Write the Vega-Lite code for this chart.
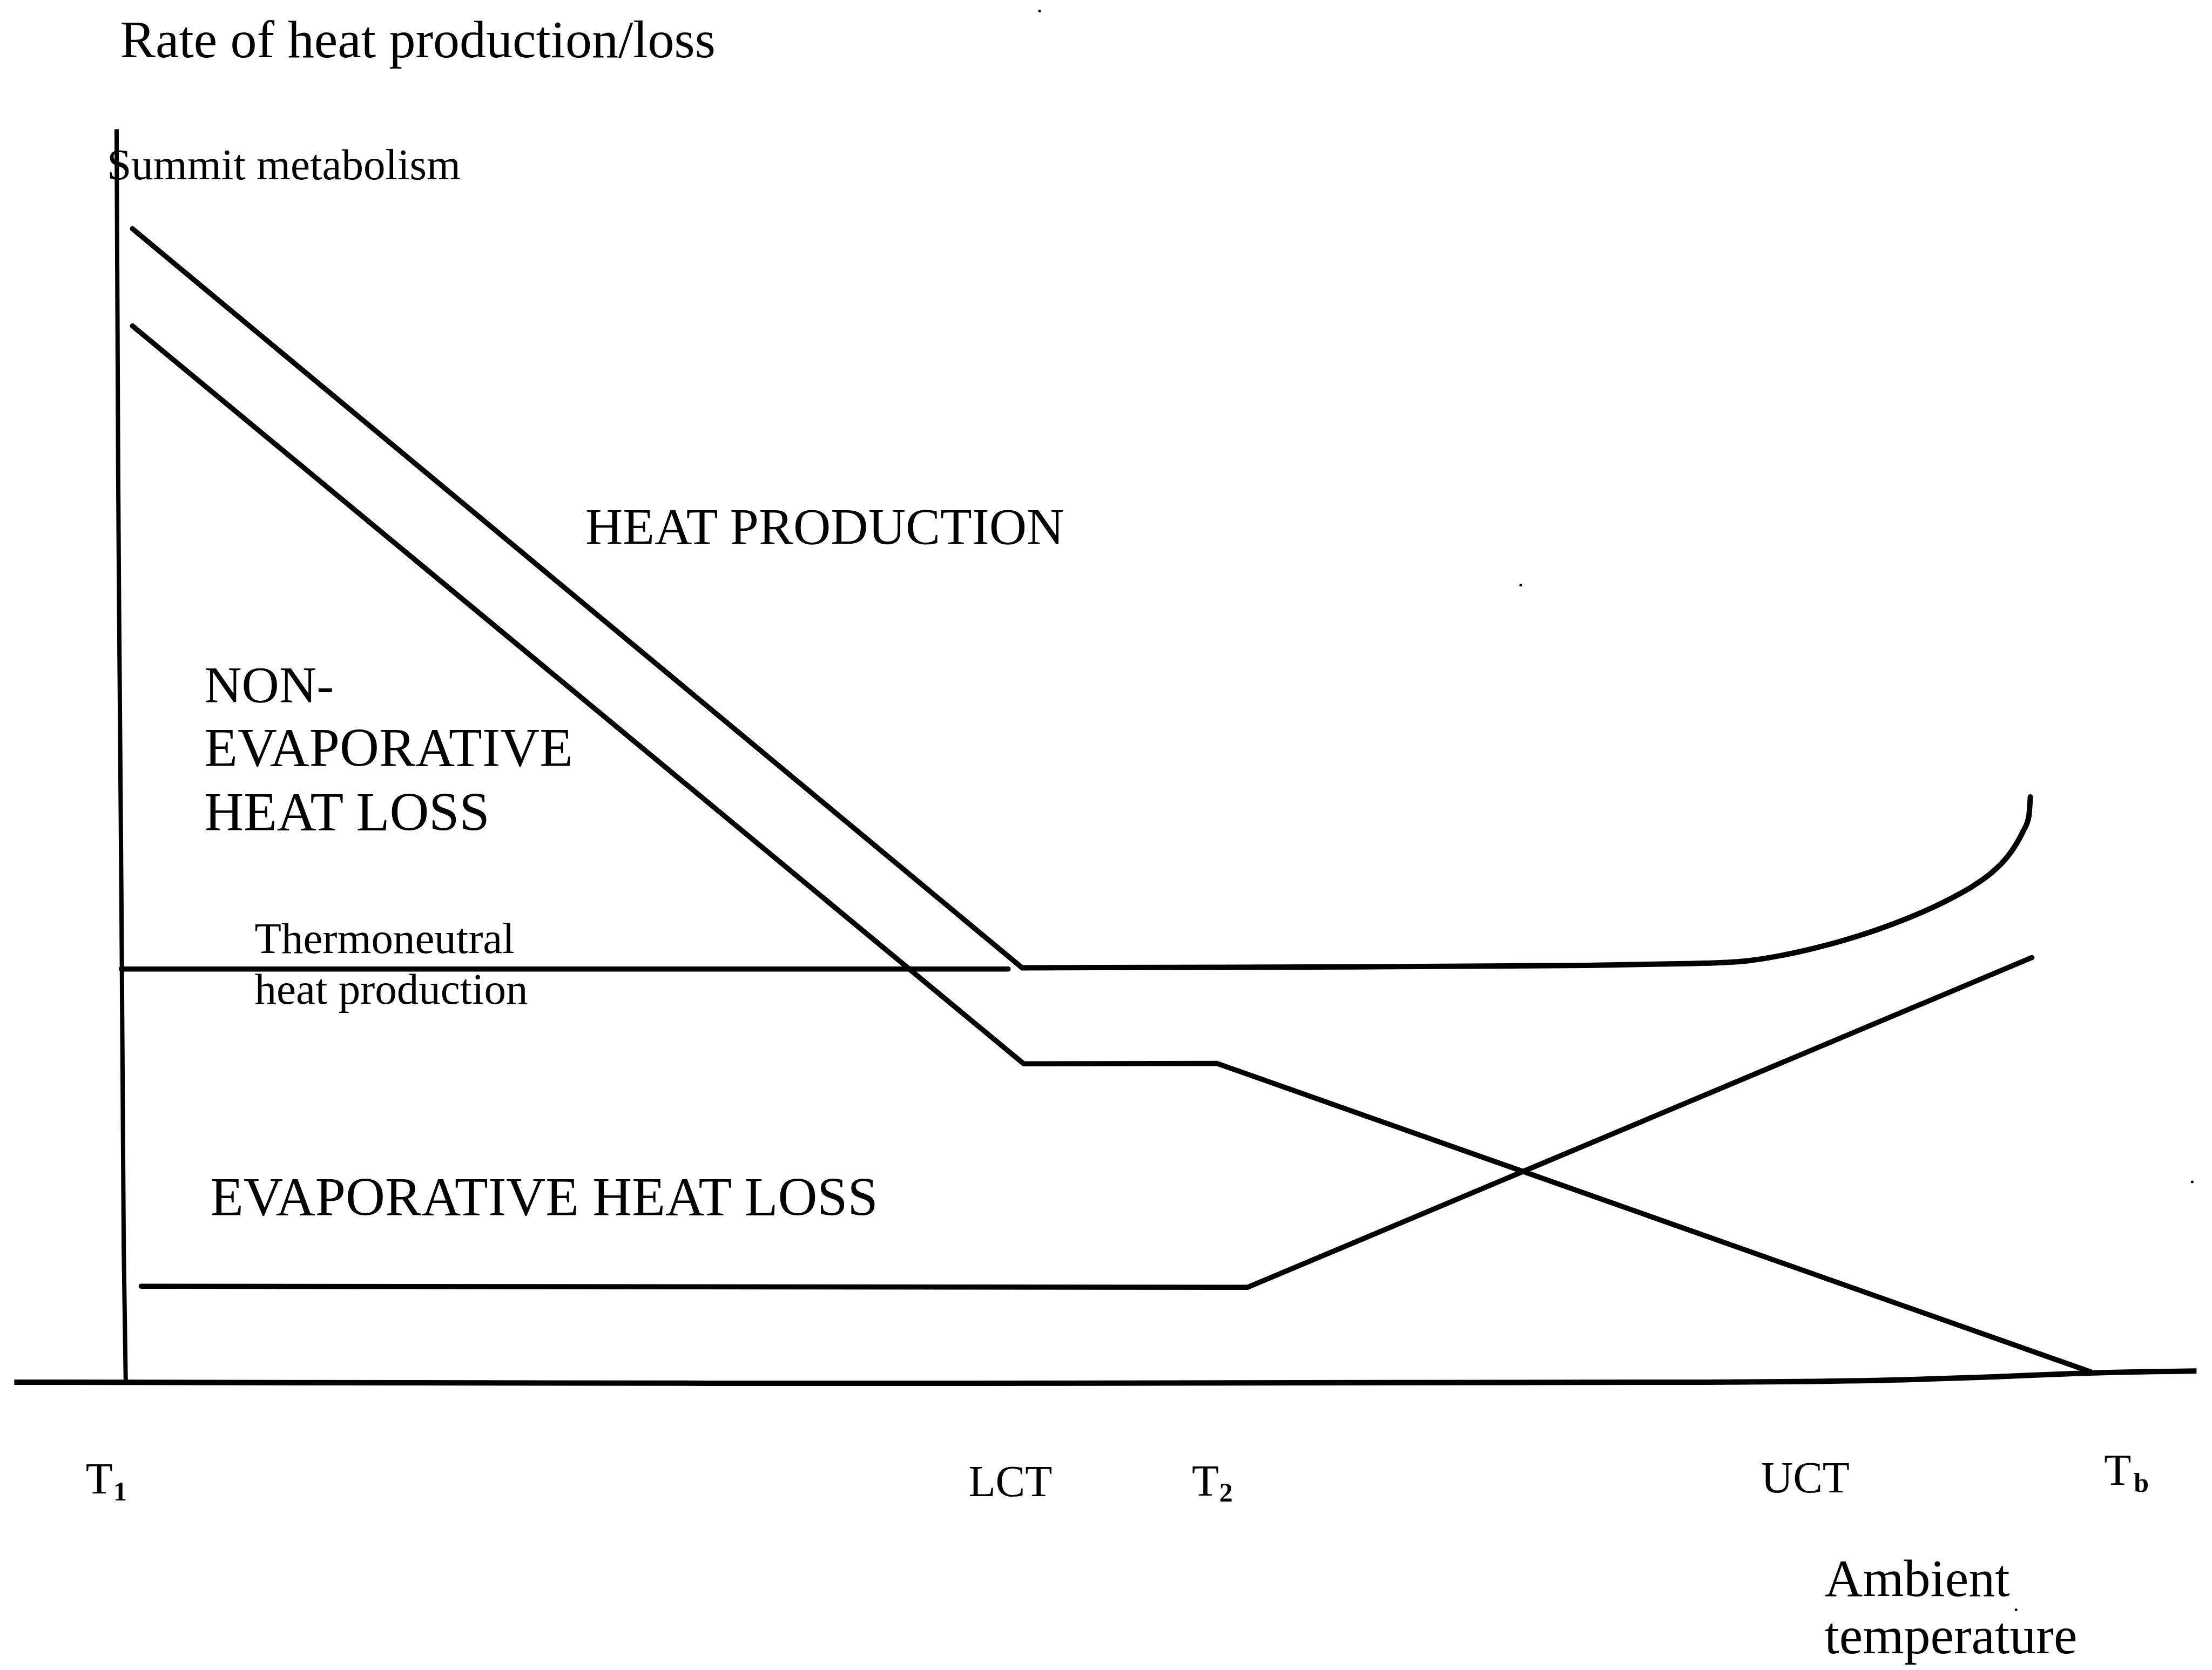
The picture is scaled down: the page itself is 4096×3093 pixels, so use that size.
{
  "$schema": "https://vega.github.io/schema/vega-lite/v6.json",
  "width": 4096,
  "height": 3093,
  "autosize": {"type": "fit", "contains": "padding"},
  "padding": 0,
  "background": "white",
  "config": {"view": {"stroke": null}},
  "datasets": {
    "lines": [
      {"series": "Heat production", "seq": 1, "x": 33.4, "y": 290.9},
      {"series": "Heat production", "seq": 2, "x": 257.7, "y": 104.5},
      {"series": "Non-evaporative heat loss", "seq": 1, "x": 33.4, "y": 266.4},
      {"series": "Non-evaporative heat loss", "seq": 2, "x": 258.1, "y": 80.3},
      {"series": "Non-evaporative heat loss", "seq": 3, "x": 306.8, "y": 80.4},
      {"series": "Non-evaporative heat loss", "seq": 4, "x": 527.1, "y": 2.6},
      {"series": "Thermoneutral heat production", "seq": 1, "x": 30.6, "y": 104.2},
      {"series": "Thermoneutral heat production", "seq": 2, "x": 254.2, "y": 104.2},
      {"series": "Evaporative heat loss", "seq": 1, "x": 35.6, "y": 24.2},
      {"series": "Evaporative heat loss", "seq": 2, "x": 314.5, "y": 23.9},
      {"series": "Evaporative heat loss", "seq": 3, "x": 512.3, "y": 107.1}
    ],
    "curve": [
      {"seq": 1, "x": 257.7, "y": 104.5},
      {"seq": 2, "x": 330.0, "y": 104.7},
      {"seq": 3, "x": 400.0, "y": 105.1},
      {"seq": 4, "x": 425.0, "y": 105.55},
      {"seq": 5, "x": 435.0, "y": 105.85},
      {"seq": 6, "x": 440.0, "y": 106.2},
      {"seq": 7, "x": 445.7, "y": 107.0},
      {"seq": 8, "x": 451.5, "y": 108.1},
      {"seq": 9, "x": 457.2, "y": 109.4},
      {"seq": 10, "x": 463.0, "y": 110.9},
      {"seq": 11, "x": 468.7, "y": 112.6},
      {"seq": 12, "x": 474.4, "y": 114.5},
      {"seq": 13, "x": 480.2, "y": 116.7},
      {"seq": 14, "x": 485.9, "y": 119.1},
      {"seq": 15, "x": 491.7, "y": 121.9},
      {"seq": 16, "x": 497.4, "y": 125.1},
      {"seq": 17, "x": 501.4, "y": 127.9},
      {"seq": 18, "x": 504.9, "y": 131.1},
      {"seq": 19, "x": 507.7, "y": 134.7},
      {"seq": 20, "x": 510.0, "y": 138.8},
      {"seq": 21, "x": 511.5, "y": 142.6},
      {"seq": 22, "x": 511.9, "y": 147.6}
    ],
    "haxis": [
      {"seq": 1, "x": 3.6, "y": 0.0},
      {"seq": 2, "x": 230.0, "y": -0.3},
      {"seq": 3, "x": 430.0, "y": 0.0},
      {"seq": 4, "x": 480.0, "y": 0.6},
      {"seq": 5, "x": 501.7, "y": 1.3},
      {"seq": 6, "x": 526.8, "y": 2.3},
      {"seq": 7, "x": 553.8, "y": 2.8}
    ],
    "vaxis": [
      {"seq": 1, "x": 29.4, "y": 316.0},
      {"seq": 2, "x": 29.8, "y": 228.6},
      {"seq": 3, "x": 30.0, "y": 198.6},
      {"seq": 4, "x": 30.6, "y": 123.6},
      {"seq": 5, "x": 31.2, "y": 33.6},
      {"seq": 6, "x": 31.7, "y": 0.1}
    ],
    "capsText": [
      {"label": "HEAT PRODUCTION", "x": 147.6, "y": 211.3},
      {"label": "NON-", "x": 51.5, "y": 171.4}
    ],
    "bigText": [
      {"label": "EVAPORATIVE", "x": 51.5, "y": 155.3},
      {"label": "HEAT LOSS", "x": 51.5, "y": 139.2},
      {"label": "EVAPORATIVE HEAT LOSS", "x": 53.0, "y": 42.1}
    ],
    "largeText": [
      {"label": "Rate of heat production/loss", "x": 30.3, "y": 334.2},
      {"label": "Ambient", "x": 460.0, "y": -53.9},
      {"label": "temperature", "x": 460.0, "y": -68.4}
    ],
    "smallText": [
      {"label": "Summit metabolism", "x": 27.0, "y": 303.4},
      {"label": "Thermoneutral", "x": 64.2, "y": 108.2},
      {"label": "heat production", "x": 64.2, "y": 95.5}
    ],
    "ticks": [
      {"label": "T", "x": 21.6, "y": -28.1},
      {"label": "LCT", "x": 244.2, "y": -28.8},
      {"label": "T", "x": 300.5, "y": -28.6},
      {"label": "UCT", "x": 444.0, "y": -27.8},
      {"label": "T", "x": 530.5, "y": -25.9}
    ],
    "subs": [
      {"label": "1", "x": 28.6, "y": -29.8},
      {"label": "2", "x": 307.4, "y": -30.1},
      {"label": "b", "x": 538.0, "y": -27.6}
    ],
    "specks": [
      {"x": 262.1, "y": 345.8},
      {"x": 383.4, "y": 201.0},
      {"x": 552.7, "y": 50.5},
      {"x": 508.3, "y": -57.4}
    ]
  },
  "encoding": {
    "x": {"field": "x", "type": "quantitative", "scale": {"domain": [0, 557.7], "nice": false, "zero": false}, "axis": null},
    "y": {"field": "y", "type": "quantitative", "scale": {"domain": [-72.6, 348.6], "nice": false, "zero": false}, "axis": null}
  },
  "layer": [
    {
      "data": {"name": "haxis"},
      "mark": {"type": "line", "color": "black", "strokeWidth": 10, "strokeCap": "butt", "interpolate": "monotone"},
      "encoding": {"order": {"field": "seq", "type": "quantitative"}}
    },
    {
      "data": {"name": "vaxis"},
      "mark": {"type": "line", "color": "black", "strokeWidth": 8, "strokeCap": "butt"},
      "encoding": {"order": {"field": "seq", "type": "quantitative"}}
    },
    {
      "data": {"name": "lines"},
      "mark": {"type": "line", "color": "black", "strokeWidth": 9.5, "strokeCap": "round", "strokeJoin": "miter"},
      "encoding": {
        "detail": {"field": "series", "type": "nominal"},
        "order": {"field": "seq", "type": "quantitative"}
      }
    },
    {
      "data": {"name": "curve"},
      "mark": {"type": "line", "color": "black", "strokeWidth": 10, "strokeCap": "round", "interpolate": "monotone"},
      "encoding": {"order": {"field": "seq", "type": "quantitative"}}
    },
    {
      "data": {"name": "specks"},
      "mark": {"type": "point", "filled": true, "color": "black", "size": 25, "opacity": 1}
    },
    {
      "data": {"name": "capsText"},
      "mark": {"type": "text", "align": "left", "baseline": "alphabetic", "font": "Liberation Serif", "fontSize": 96, "color": "black"},
      "encoding": {"text": {"field": "label", "type": "nominal"}}
    },
    {
      "data": {"name": "bigText"},
      "mark": {"type": "text", "align": "left", "baseline": "alphabetic", "font": "Liberation Serif", "fontSize": 101, "color": "black"},
      "encoding": {"text": {"field": "label", "type": "nominal"}}
    },
    {
      "data": {"name": "largeText"},
      "mark": {"type": "text", "align": "left", "baseline": "alphabetic", "font": "Liberation Serif", "fontSize": 98, "color": "black"},
      "encoding": {"text": {"field": "label", "type": "nominal"}}
    },
    {
      "data": {"name": "smallText"},
      "mark": {"type": "text", "align": "left", "baseline": "alphabetic", "font": "Liberation Serif", "fontSize": 81, "color": "black"},
      "encoding": {"text": {"field": "label", "type": "nominal"}}
    },
    {
      "data": {"name": "ticks"},
      "mark": {"type": "text", "align": "left", "baseline": "alphabetic", "font": "Liberation Serif", "fontSize": 82, "color": "black"},
      "encoding": {"text": {"field": "label", "type": "nominal"}}
    },
    {
      "data": {"name": "subs"},
      "mark": {"type": "text", "align": "left", "baseline": "alphabetic", "font": "Liberation Serif", "fontSize": 50, "fontWeight": "bold", "color": "black"},
      "encoding": {"text": {"field": "label", "type": "nominal"}}
    }
  ]
}
